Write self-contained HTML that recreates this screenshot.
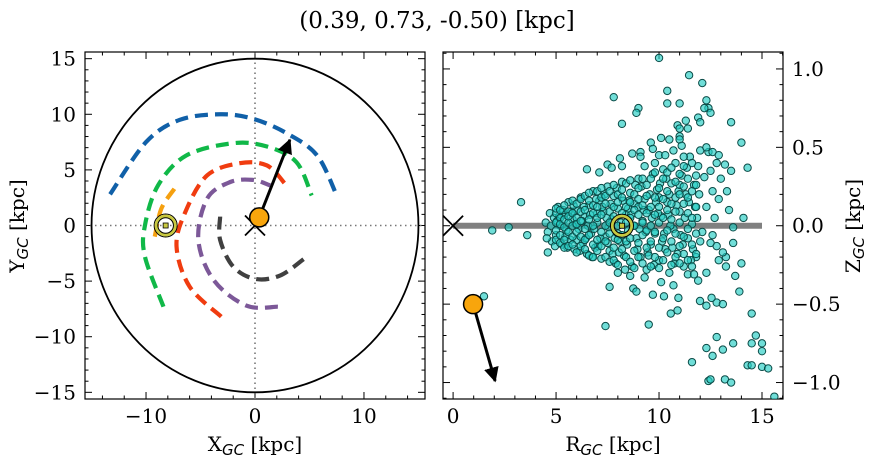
<!DOCTYPE html>
<html><head><meta charset="utf-8"><style>
body{margin:0;background:#fff}
svg{display:block;font-family:"DejaVu Serif","Liberation Serif",serif}
</style></head><body>
<svg id="fig" width="874" height="464" viewBox="0 0 874 464" xmlns="http://www.w3.org/2000/svg">
<text x="437" y="28" text-anchor="middle" font-size="23">(0.39, 0.73, -0.50) [kpc]</text>
<g id="left"></g>
<g id="right"></g>
</svg>
<script>
const NS='http://www.w3.org/2000/svg';
// ---- data ----
const starPos=[0.39,0.73,-0.50];
const starR=0.97;
const starVelXY=[3.2,7.7];
const starVelRZ=[2.04,-0.99];
const sunR=8.2;
const orbitBlue=[[-13.3,2.8],[-10,7.5],[-6.9,9.5],[-3.2,10],[-0.2,9.6],[2.9,8.3],[5.7,6.3],[7.5,2.7]];
const orbitGreen=[[-8.4,-7.3],[-10.1,-2.8],[-10.1,0],[-8.9,3.6],[-6.3,6.3],[-2,7.4],[1.1,7.1],[3.8,5.7],[5.2,2.7]];
const orbitOrange=[[-9.2,-1],[-8.6,1.5],[-7.4,3.3]];
const orbitRed=[[-3.1,-8.2],[-6,-5.5],[-7.2,-1.9],[-6.4,1.2],[-4.4,4.5],[-1.4,5.6],[1.1,5.4],[2.8,3.7]];
const orbitPurple=[[2.1,-7.3],[-0.8,-7.2],[-3.8,-4.9],[-5.2,-1.3],[-4.4,2.4],[-2.3,3.9],[-0.2,4.1],[1.4,3.6]];
const orbitGrey=[[-3.2,0.8],[-3.2,-1.3],[-2,-3.7],[0,-4.8],[2.3,-4.5],[4.5,-3]];
const scatterR=[10.0,11.46,12.1,10.4,7.8,10.4,11.0,12.3,12.4,12.2,12.5,9.0,8.9,8.2,11.3,11.9,12.0,11.4,10.9,11.0,13.5,10.1,10.5,11.0,11.0,9.6,11.1,14.0,9.7,9.1,8.7,10.0,9.1,8.1,7.5,7.7,8.2,6.5,7.1,14.3,3.3,1.9,2.7,3.6,4.6,1.5,14.1,13.6,13.6,14.0,13.9,7.4,9.5,11.6,12.3,12.6,12.8,13.1,13.6,13.2,13.5,12.4,12.5,14.5,14.7,14.5,15.0,15.0,14.3,14.5,15.0,15.3,15.6,10.24,10.94,10.57,10.9,11.99,12.3,12.8,13.1,12.55,11.4,11.7,9.7,8.75,8.9,7.6,13.25,13.25,13.7,13.1,12.8,12.5,
4.5,4.6,4.7,4.8,4.9,5.0,5.1,5.2,5.3,5.4,5.5,5.6,5.7,5.8,5.9,6.0,6.1,6.2,6.3,6.4,6.5,6.6,6.7,6.8,6.9,7.0,7.1,7.2,7.3,7.4,7.5,7.6,7.7,7.8,7.9,8.0,8.1,8.2,8.3,8.4,8.5,8.6,8.7,8.8,8.9,9.0,9.1,9.2,9.3,9.4,9.5,9.6,9.7,9.8,9.9,10.0,10.1,10.2,10.3,10.4,10.5,10.6,10.7,10.8,10.9,11.0,11.1,11.2,11.3,11.4,11.5,11.6,11.7,11.8,11.9,12.0,12.2,12.4,12.6,12.8,
4.55,4.75,4.95,5.15,5.35,5.55,5.75,5.95,6.15,6.35,6.55,6.75,6.95,7.15,7.35,7.55,7.75,7.95,8.15,8.35,8.55,8.75,8.95,9.15,9.35,9.55,9.75,9.95,10.15,10.35,10.55,10.75,10.95,11.15,11.35,11.55,11.75,11.95,12.1,12.3,12.5,12.7,
5.05,5.45,5.85,6.25,6.45,6.65,6.85,7.05,7.25,7.45,7.65,7.85,8.05,8.25,8.45,8.65,8.85,9.05,9.25,9.45,9.65,9.85,10.05,10.25,10.45,10.65,10.85,11.05,11.25,11.45,11.65,11.85,10.0,9.0,8.0,7.0,6.0,10.5,11.0,9.5,8.5,7.5,
9.3,9.8,10.3,10.7,11.2,12.0,12.3,12.6,12.9,13.2,13.5,13.0,13.3,12.9,13.4,12.6,12.9,12.3,11.9,10.7,10.1,9.3,8.6,8.0,
5.0,5.0,5.0,5.0,5.0,5.2,5.2,5.2,5.2,5.2,5.4,5.4,5.4,5.4,5.4,5.6,5.6,5.6,5.6,5.6,5.8,5.8,5.8,5.8,5.8,6.0,6.0,6.0,6.0,6.0,6.2,6.2,6.2,6.2,6.2,6.4,6.4,6.4,6.4,6.4,6.6,6.6,6.6,6.6,6.6,6.8,6.8,6.8,6.8,6.8,7.0,7.0,7.0,7.0,7.0,7.2,7.2,7.2,7.2,7.2,7.4,7.4,7.4,7.4,7.4,7.6,7.6,7.6,7.6,7.6,7.8,7.8,7.8,7.8,7.8,8.0,8.0,8.0,8.0,8.0,8.2,8.2,8.2,8.2,8.2,8.4,8.4,8.4,8.4,8.4,8.6,8.6,8.6,8.6,8.6,8.8,8.8,8.8,8.8,8.8,9.0,9.0,9.0,9.0,9.0,9.2,9.2,9.2,9.2,9.2,9.4,9.4,9.4,9.4,9.4,9.6,9.6,9.6,9.6,9.6,9.8,9.8,9.8,9.8,9.8,10.0,10.0,10.0,10.0,10.0,10.2,10.2,10.2,10.2,10.2,10.4,10.4,10.4,10.4,10.4,10.6,10.6,10.6,10.6,10.6,10.8,10.8,10.8,10.8,10.8,11.0,11.0,11.0,11.0,11.0,11.2,11.2,11.2,11.2,11.2,11.4,11.4,11.4,11.4,11.4,11.6,11.6,11.6,11.6,11.6,11.8,11.8,11.8,11.8,11.8];
const scatterZ=[1.07,0.96,0.91,0.86,0.82,0.78,0.78,0.8,0.75,0.75,0.72,0.75,0.72,0.65,0.67,0.69,0.66,0.62,0.64,0.62,0.66,0.56,0.55,0.57,0.55,0.53,0.51,0.53,0.49,0.47,0.46,0.45,0.44,0.43,0.39,0.37,0.38,0.36,0.34,0.37,0.15,-0.03,-0.01,-0.06,-0.17,-0.45,0.05,-0.01,-0.11,-0.24,-0.42,-0.64,-0.63,-0.87,-0.78,-0.83,-0.71,-0.79,-0.75,-0.98,-1.0,-0.99,-0.98,-0.56,-0.7,-0.75,-0.75,-0.8,-0.89,-0.89,-0.9,-0.91,-1.09,-0.45,-0.46,-0.56,-0.54,-0.48,-0.51,-0.49,-0.5,-0.46,-0.31,-0.31,-0.44,-0.4,-0.42,-0.39,-0.2,-0.26,-0.32,-0.17,-0.13,-0.11,
0.02,-0.04,0.08,-0.1,0.05,-0.06,0.12,0.0,-0.12,0.07,-0.03,0.15,-0.09,0.04,-0.15,0.1,-0.02,0.18,-0.11,0.06,-0.18,0.13,-0.05,0.22,-0.14,0.02,0.16,-0.21,0.09,-0.07,0.25,-0.16,0.04,0.19,-0.24,0.11,-0.1,0.28,-0.19,0.07,-0.03,0.21,-0.26,0.14,-0.08,0.3,-0.2,0.03,0.17,-0.28,0.1,-0.12,0.33,-0.05,0.23,-0.22,0.06,0.36,-0.15,0.15,-0.3,0.27,-0.02,0.4,-0.18,0.09,0.32,-0.26,0.2,-0.08,0.44,0.01,0.26,-0.2,0.38,-0.1,0.31,0.47,0.22,0.4,
-0.08,0.0,-0.13,0.06,0.1,-0.14,0.09,0.01,-0.16,0.12,0.0,-0.2,0.17,-0.08,0.2,-0.01,-0.18,0.24,0.02,-0.28,0.16,0.0,-0.15,0.25,-0.04,0.2,-0.25,0.08,-0.1,0.3,0.0,-0.24,0.22,-0.12,0.37,-0.22,0.12,0.2,-0.04,0.12,0.35,0.05,
0.03,-0.07,0.13,0.03,-0.08,0.07,-0.02,-0.13,0.12,0.05,0.14,-0.08,-0.17,0.16,-0.12,0.07,0.26,-0.02,0.1,-0.17,0.05,0.15,0.27,-0.05,0.07,-0.14,0.13,-0.06,0.05,0.15,-0.15,0.05,0.18,0.12,-0.05,0.08,-0.09,0.2,0.26,-0.19,0.11,-0.11,
0.38,0.4,0.45,0.48,0.44,0.48,0.5,0.47,0.45,0.39,0.35,0.3,0.22,0.17,0.1,-0.06,-0.22,-0.3,-0.35,-0.38,-0.36,-0.33,-0.32,-0.3,
0.08,-0.09,0.02,-0.03,0.11,-0.06,0.05,0.1,-0.11,0.01,0.13,-0.01,-0.09,0.04,-0.14,-0.04,0.09,-0.13,0.02,0.06,0.16,-0.07,0.0,-0.12,0.08,-0.17,0.05,0.14,-0.04,0.01,0.09,-0.13,0.03,0.17,-0.07,-0.02,0.19,-0.15,0.1,-0.09,0.04,-0.19,0.16,-0.06,0.21,-0.12,0.08,0.0,-0.2,0.13,0.22,-0.09,0.05,-0.16,0.12,-0.04,0.18,-0.13,0.07,0.24,0.14,-0.2,0.0,-0.1,0.19,-0.23,0.09,0.22,-0.05,0.02,0.06,-0.14,0.26,-0.22,0.12,-0.09,0.2,0.0,-0.25,0.15,0.23,-0.15,0.08,-0.06,0.18,-0.2,0.12,0.27,-0.1,0.02,0.05,-0.23,0.15,-0.08,0.29,-0.16,0.2,0.0,-0.27,0.1,0.24,-0.11,0.07,-0.2,0.17,-0.06,0.3,-0.24,0.13,0.02,0.19,-0.14,0.26,-0.03,0.08,-0.26,0.12,0.0,0.3,-0.1,0.07,-0.2,0.18,0.34,-0.04,-0.14,0.24,0.02,-0.27,0.12,0.3,-0.08,0.17,-0.22,0.05,-0.03,0.34,-0.17,0.22,0.1,0.14,-0.25,0.04,0.37,-0.1,-0.2,0.09,0.28,-0.05,0.18,0.33,-0.13,0.02,0.2,-0.24,-0.07,0.14,0.38,-0.18,0.25,0.08,-0.22,0.3,-0.02,0.18,0.4,-0.12,0.22,0.05,-0.26,-0.05,0.32,0.12,-0.18,0.26];
const xTicksL=[-10,0,10], xLabelsL=['\u221210','0','10'];
const yTicksL=[15,10,5,0,-5,-10,-15], yLabelsL=['15','10','5','0','\u22125','\u221210','\u221215'];
const xTicksR=[0,5,10,15], xLabelsR=['0','5','10','15'];
const yTicksR=[1.0,0.5,0.0,-0.5,-1.0], yLabelsR=['1.0','0.5','0.0','\u22120.5','\u22121.0'];

function el(tag,attrs,parent){const e=document.createElementNS(NS,tag);for(const k in attrs)e.setAttribute(k,attrs[k]);parent.appendChild(e);return e;}
const L={x0:85,x1:425,y0:52,y1:399,xmin:-15.6,xmax:15.6,ymin:-15.6,ymax:15.6};
const R={x0:443,x1:783,y0:52,y1:399,xmin:-0.49,xmax:16.02,ymin:-1.105,ymax:1.108};
function sx(A,v){return A.x0+(v-A.xmin)/(A.xmax-A.xmin)*(A.x1-A.x0);}
function sy(A,v){return A.y1-(v-A.ymin)/(A.ymax-A.ymin)*(A.y1-A.y0);}
const gL=document.getElementById('left'), gR=document.getElementById('right');

function axes(A,g,xt,xl,yt,yl,xminor,yminor,yRight){
  const fr=el('rect',{x:A.x0,y:A.y0,width:A.x1-A.x0,height:A.y1-A.y0,fill:'none',stroke:'#000','stroke-width':1.2},g);
  
  const tk=el('g',{stroke:'#000','stroke-width':1},g);
  
  for(let v=Math.ceil(A.xmin/xminor)*xminor;v<=A.xmax;v+=xminor){const x=sx(A,v);const maj=xt.some(t=>Math.abs(t-v)<1e-6);const l=maj?7:3.5;
    el('line',{x1:x,x2:x,y1:A.y1,y2:A.y1-l},tk);el('line',{x1:x,x2:x,y1:A.y0,y2:A.y0+l},tk);}
  for(let v=Math.ceil(A.ymin/yminor-1e-9)*yminor;v<=A.ymax;v+=yminor){const y=sy(A,v);const maj=yt.some(t=>Math.abs(t-v)<1e-6);const l=maj?7:3.5;
    el('line',{x1:A.x0,x2:A.x0+l,y1:y,y2:y},tk);el('line',{x1:A.x1,x2:A.x1-l,y1:y,y2:y},tk);}
  xt.forEach((t,i)=>{const e=el('text',{x:sx(A,t),y:A.y1+24,'text-anchor':'middle','font-size':20},g);e.textContent=xl[i];
    });
  yt.forEach((t,i)=>{const e=el('text',{x:yRight?A.x1+9:A.x0-9,y:sy(A,t)+7,'text-anchor':yRight?'start':'end','font-size':20},g);e.textContent=yl[i];
    });
}
axes(L,gL,xTicksL,xLabelsL,yTicksL,yLabelsL,2,1,false);
axes(R,gR,xTicksR,xLabelsR,yTicksR,yLabelsR,1,0.1,true);

function axLabel(g,x,y,main,sub,rest,rot,name){
  const t=el('text',{x:x,y:y,'text-anchor':'middle','font-size':20},g);
  if(rot)t.setAttribute('transform','rotate(-90 '+x+' '+y+')');
  
  const a=el('tspan',{},t);a.textContent=main;
  const b=el('tspan',{'font-family':'DejaVu Sans, Liberation Sans, sans-serif','font-style':'italic','font-size':15,dy:4},t);b.textContent=sub;
  const c=el('tspan',{dy:-4},t);c.textContent=rest;
}
axLabel(gL,255,451,'X','GC',' [kpc]',false,'x-axis-title');
axLabel(gL,24,226,'Y','GC',' [kpc]',true,'y-axis-title');
axLabel(gR,613,451,'R','GC',' [kpc]',false,'r-axis-title');
axLabel(gR,860,226,'Z','GC',' [kpc]',true,'z-axis-title');

const defs=el('defs',{},document.getElementById('fig'));
const mk=el('marker',{id:'ah',viewBox:'0 0 10 10',refX:9,refY:5,markerWidth:5,markerHeight:5,orient:'auto'},defs);
el('path',{d:'M0,0 L10,5 L0,10 z',fill:'#000'},mk);
const clipL=el('clipPath',{id:'cl'},defs);el('rect',{x:L.x0,y:L.y0,width:L.x1-L.x0,height:L.y1-L.y0},clipL);
const clipR=el('clipPath',{id:'cr'},defs);el('rect',{x:R.x0,y:R.y0,width:R.x1-R.x0,height:R.y1-R.y0},clipR);

const cL=el('g',{'clip-path':'url(#cl)'},gL);
const gc=el('line',{x1:sx(L,L.xmin),x2:sx(L,L.xmax),y1:sy(L,0),y2:sy(L,0),stroke:'#777','stroke-width':1.6,'stroke-dasharray':'1.5 3.5'},cL);

const gv=el('line',{x1:sx(L,0),x2:sx(L,0),y1:sy(L,L.ymin),y2:sy(L,L.ymax),stroke:'#777','stroke-width':1.6,'stroke-dasharray':'1.5 3.5'},cL);

const disk=el('ellipse',{cx:sx(L,0),cy:sy(L,0),rx:sx(L,15)-sx(L,0),ry:sy(L,0)-sy(L,15),fill:'none',stroke:'#000','stroke-width':1.8},cL);


function smooth(pts){let d='M'+pts[0][0]+','+pts[0][1];
  for(let i=0;i<pts.length-1;i++){const p0=pts[i-1]||pts[i],p1=pts[i],p2=pts[i+1],p3=pts[i+2]||p2;
    d+=' C'+(p1[0]+(p2[0]-p0[0])/6)+','+(p1[1]+(p2[1]-p0[1])/6)+' '+(p2[0]-(p3[0]-p1[0])/6)+','+(p2[1]-(p3[1]-p1[1])/6)+' '+p2[0]+','+p2[1];}
  return d;}
[[orbitBlue,'#1060a8','orbit-blue'],[orbitGreen,'#10b848','orbit-green'],[orbitOrange,'#f5a010','orbit-orange'],[orbitRed,'#f03c10','orbit-red'],[orbitPurple,'#7c5898','orbit-purple'],[orbitGrey,'#404040','orbit-grey']].forEach(o=>{
  const p=el('path',{d:smooth(o[0].map(q=>[sx(L,q[0]),sy(L,q[1])])),fill:'none',stroke:o[1],'stroke-width':4.2,'stroke-dasharray':'13 7'},cL);
  
});
function xmark(g,x,y,name){const gg=el('g',{stroke:'#000','stroke-width':1.8},g);
  
  el('line',{x1:x-10,y1:y-10,x2:x+10,y2:y+10},gg);el('line',{x1:x-10,y1:y+10,x2:x+10,y2:y-10},gg);}
function sun(g,x,y,name){const gg=el('g',{},g);
  el('circle',{cx:x,cy:y,r:11.5,fill:'none',stroke:'#000','stroke-width':1},gg);
  el('circle',{cx:x,cy:y,r:9.5,fill:'none',stroke:'#c8c840','stroke-width':3},gg);
  el('circle',{cx:x,cy:y,r:7.8,fill:'none',stroke:'#000','stroke-width':1},gg);
  el('rect',{x:x-2.5,y:y-2.5,width:5,height:5,fill:'#c8c840',stroke:'#000','stroke-width':0.8},gg);}
xmark(cL,sx(L,0),sy(L,0),'galactic-center-marker');
sun(cL,sx(L,-sunR),sy(L,0),'sun-marker');
const arL=el('line',{x1:sx(L,starPos[0]),y1:sy(L,starPos[1]),x2:sx(L,starVelXY[0]),y2:sy(L,starVelXY[1]),stroke:'#000','stroke-width':3,'marker-end':'url(#ah)'},cL);

const stL=el('circle',{cx:sx(L,starPos[0]),cy:sy(L,starPos[1]),r:9.5,fill:'#f8a50c',stroke:'#000','stroke-width':1.5},cL);


const cR=el('g',{'clip-path':'url(#cr)'},gR);
const pl=el('line',{x1:sx(R,0),x2:sx(R,15),y1:sy(R,0),y2:sy(R,0),stroke:'#808080','stroke-width':6},cR);

const sg=el('g',{},cR);
for(let i=0;i<scatterR.length;i++){
  const c=el('circle',{cx:sx(R,scatterR[i]),cy:sy(R,scatterZ[i]),r:3.7,fill:'rgba(35,205,195,0.65)',stroke:'#0a4a46','stroke-width':1},sg);
  
  
}
xmark(cR,sx(R,0),sy(R,0),'galactic-center-marker');
sun(cR,sx(R,sunR),sy(R,0),'sun-marker');
const arR=el('line',{x1:sx(R,starR),y1:sy(R,starPos[2]),x2:sx(R,starVelRZ[0]),y2:sy(R,starVelRZ[1]),stroke:'#000','stroke-width':3,'marker-end':'url(#ah)'},cR);

const stR=el('circle',{cx:sx(R,starR),cy:sy(R,starPos[2]),r:9.5,fill:'#f8a50c',stroke:'#000','stroke-width':1.5},cR);

</script>
</body></html>
